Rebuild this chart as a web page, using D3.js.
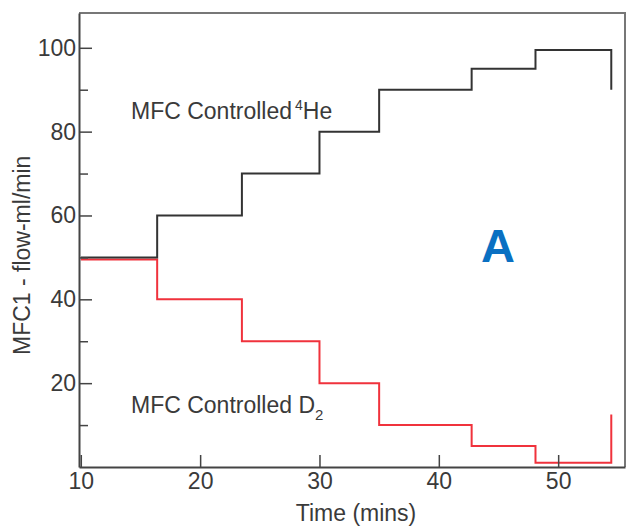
<!DOCTYPE html>
<html>
<head>
<meta charset="utf-8">
<script src="https://cdn.jsdelivr.net/npm/d3@7"></script>
<style>
  body { margin: 0; background: #fff; }
  text { font-family: "Liberation Sans", Arial, Helvetica, sans-serif; fill: #3a3a3a; }
</style>
</head>
<body>
<svg id="chart" width="628" height="528"></svg>
<script>
// step times (mins) where the flow setpoint changes
var heTimes = [10, 16.4, 23.5, 30, 35, 42.75, 48.1, 54.45];
var heFlow  = [50, 60, 70, 80, 90, 95, 99.5, 90];
var d2Times = [10, 16.4, 23.5, 30, 35, 42.75, 48.1, 54.45];
var d2Flow  = [49.5, 40, 30, 20, 10, 5, 1, 12.5];

var xTicks = [10, 20, 30, 40, 50];
var yMajor = [20, 40, 60, 80, 100];
var yMinor = [10, 30, 50, 70, 90];

var svg = d3.select("#chart");

var plotLeft = 79, plotRight = 625, plotTop = 13, plotBottom = 467;

var x = d3.scaleLinear().domain([9.85, 55.6]).range([plotLeft, plotRight]);
var y = d3.scaleLinear().domain([0, 108.3]).range([plotBottom, plotTop]);

// frame: top and right are lighter
svg.append("path")
    .attr("d", "M" + plotLeft + "," + plotTop + "H" + plotRight + "V" + plotBottom)
    .attr("fill", "none")
    .attr("stroke", "#777")
    .attr("stroke-width", 2);

function stepData(times, flows) {
    var pts = [];
    for (var i = 0; i < times.length; i++) {
        pts.push({t: times[i], v: flows[i]});
    }
    return pts;
}

// last point is the final drop / rise, drawn as a vertical end segment
function stepPath(pts) {
    var d = "M" + x(pts[0].t) + "," + y(pts[0].v);
    for (var i = 1; i < pts.length; i++) {
        d += "H" + x(pts[i].t) + "V" + y(pts[i].v);
    }
    return d;
}

svg.append("path")
    .attr("d", stepPath(stepData(d2Times, d2Flow)))
    .attr("fill", "none")
    .attr("stroke", "#f0323c")
    .attr("stroke-width", 2);

svg.append("path")
    .attr("d", stepPath(stepData(heTimes, heFlow)))
    .attr("fill", "none")
    .attr("stroke", "#333")
    .attr("stroke-width", 2);

// y axis
svg.append("g")
    .attr("transform", "translate(" + plotLeft + ",0)")
    .call(d3.axisLeft(y).tickValues(yMajor).tickSizeInner(-13).tickSizeOuter(0).tickPadding(3));
svg.append("g")
    .attr("transform", "translate(" + plotLeft + ",0)")
    .call(d3.axisLeft(y).tickValues(yMinor).tickSizeInner(-9).tickSizeOuter(0).tickFormat(""))
    .select(".domain").remove();

// x axis
svg.append("g")
    .attr("transform", "translate(0," + plotBottom + ")")
    .call(d3.axisBottom(x).tickValues(xTicks).tickSizeInner(-12).tickSizeOuter(0).tickPadding(6));

svg.selectAll(".domain").attr("stroke", "#444").attr("stroke-width", 2);
svg.selectAll(".tick line").attr("stroke", "#444").attr("stroke-width", 1.5);
svg.selectAll(".tick text")
    .attr("font-size", 23)
    .attr("font-family", "Liberation Sans, Arial, sans-serif")
    .attr("fill", "#3a3a3a");

// axis titles
svg.append("text")
    .attr("x", 356)
    .attr("y", 521)
    .attr("text-anchor", "middle")
    .attr("font-size", 23)
    .text("Time (mins)");

svg.append("text")
    .attr("transform", "translate(29.5,355) rotate(-90)")
    .attr("text-anchor", "start")
    .attr("font-size", 23)
    .text("MFC1 - flow-ml/min");

// series labels
var heLabel = svg.append("text")
    .attr("x", 131)
    .attr("y", 119)
    .attr("font-size", 23);
heLabel.append("tspan").text("MFC Controlled");
heLabel.append("tspan").attr("dx", 3).attr("dy", -9).attr("font-size", 14).text("4");
heLabel.append("tspan").attr("dy", 9).text("He");

var d2Label = svg.append("text")
    .attr("x", 131)
    .attr("y", 413)
    .attr("font-size", 23);
d2Label.append("tspan").text("MFC Controlled D");
d2Label.append("tspan").attr("dy", 7).attr("font-size", 15).text("2");

svg.append("text")
    .attr("x", 498)
    .attr("y", 262)
    .attr("text-anchor", "middle")
    .attr("font-size", 47)
    .attr("font-weight", "bold")
    .style("fill", "#0a70c2")
    .text("A");
</script>
</body>
</html>
